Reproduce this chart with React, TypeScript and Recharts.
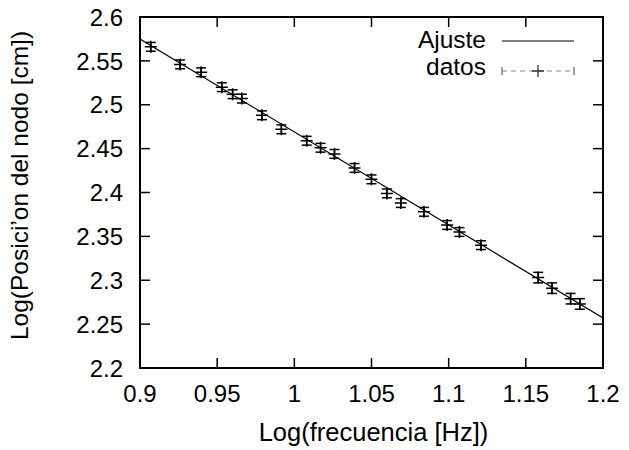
import React from "react";
import {
  ComposedChart,
  Scatter,
  XAxis,
  YAxis,
  ErrorBar,
  ReferenceArea,
  Label,
} from "recharts";

// log10 of frequency [Hz]
const freqLog = [
  0.907, 0.926, 0.9396, 0.953, 0.96, 0.966, 0.979, 0.9916, 1.008, 1.017, 1.026,
  1.039, 1.05, 1.06, 1.069, 1.084, 1.099, 1.107, 1.121, 1.158, 1.167, 1.179,
  1.185,
];
// log10 of node position [cm]
const posLog = [
  2.566, 2.546, 2.537, 2.52, 2.512, 2.507, 2.488, 2.472, 2.459, 2.451, 2.444,
  2.428, 2.415, 2.399, 2.388, 2.378, 2.363, 2.355, 2.34, 2.303, 2.291, 2.279,
  2.273,
];
const posErr = [
  0.005, 0.005, 0.005, 0.005, 0.005, 0.005, 0.005, 0.005, 0.005, 0.005, 0.005,
  0.005, 0.005, 0.005, 0.005, 0.005, 0.005, 0.005, 0.005, 0.006, 0.006, 0.006,
  0.006,
];
// linear fit endpoints
const fitFreq = [0.9, 1.2];
const fitPos = [2.575, 2.257];

const xTicks = [0.9, 0.95, 1, 1.05, 1.1, 1.15, 1.2];
const yTicks = [2.2, 2.25, 2.3, 2.35, 2.4, 2.45, 2.5, 2.55, 2.6];

const data = freqLog.map((x, i) => ({ x, y: posLog[i], err: posErr[i] }));
const fit = fitFreq.map((x, i) => ({ x, y: fitPos[i] }));

const W = 629;
const H = 450;
const FONT = "'Liberation Sans', Arial, Helvetica, sans-serif";
const PLOT_TOP = 17;
const PLOT_RIGHT = 603;
const TICK_LEN = 10;

const XTick = (props: any) => {
  const { x, y, payload } = props;
  return (
    <g>
      <line x1={x} x2={x} y1={y} y2={y - TICK_LEN} stroke="#000" strokeWidth={1.5} />
      <line x1={x} x2={x} y1={PLOT_TOP} y2={PLOT_TOP + TICK_LEN} stroke="#000" strokeWidth={1.5} />
      <text x={x} y={y + 34} textAnchor="middle" fontSize={24} fontFamily={FONT} fill="#000">
        {String(payload.value)}
      </text>
    </g>
  );
};

const YTick = (props: any) => {
  const { x, y, payload } = props;
  return (
    <g>
      <line x1={x} x2={x + TICK_LEN} y1={y} y2={y} stroke="#000" strokeWidth={1.5} />
      <line x1={PLOT_RIGHT} x2={PLOT_RIGHT - TICK_LEN} y1={y} y2={y} stroke="#000" strokeWidth={1.5} />
      <text x={x - 17} y={y} dy="0.36em" textAnchor="end" fontSize={24} fontFamily={FONT} fill="#000">
        {String(payload.value)}
      </text>
    </g>
  );
};

const XTitle = (props: any) => {
  const vb = props.viewBox;
  return (
    <text x={vb.x + vb.width / 2 + 2} y={vb.y + 73} textAnchor="middle" fontSize={25.5} fontFamily={FONT} fill="#000">
      Log(frecuencia [Hz])
    </text>
  );
};

const YTitle = (props: any) => {
  const vb = props.viewBox;
  const cx = vb.x - 12;
  const cy = vb.y + vb.height / 2 - 7;
  return (
    <text
      x={cx}
      y={cy}
      transform={`rotate(-90 ${cx} ${cy})`}
      textAnchor="middle"
      fontSize={24.5}
      fontFamily={FONT}
      fill="#000"
    >
      Log(Posici’on del nodo [cm])
    </text>
  );
};

const Plus = (props: any) => {
  const { cx, cy } = props;
  if (cx == null || cy == null) return <g />;
  return (
    <path
      d={`M${cx - 6},${cy}h12M${cx},${cy - 6}v12`}
      stroke="#000"
      strokeWidth={1.5}
      fill="none"
    />
  );
};

const Legend = () => (
  <svg
    width={W}
    height={H}
    style={{ position: "absolute", left: 0, top: 0, pointerEvents: "none" }}
  >
    <text x={486} y={48} textAnchor="end" fontSize={24.5} fontFamily={FONT} fill="#000">
      Ajuste
    </text>
    <line x1={502} x2={574} y1={41} y2={41} stroke="#000" strokeWidth={1.2} />
    <text x={486} y={75} textAnchor="end" fontSize={24.5} fontFamily={FONT} fill="#000">
      datos
    </text>
    <line x1={502} x2={574} y1={71} y2={71} stroke="#888" strokeWidth={1.2} strokeDasharray="5 4" />
    <line x1={502} x2={502} y1={67} y2={75} stroke="#666" strokeWidth={1.2} />
    <line x1={574} x2={574} y1={67} y2={75} stroke="#666" strokeWidth={1.2} />
    <path d="M532,71h12M538,65v12" stroke="#333" strokeWidth={1.3} fill="none" />
  </svg>
);

export default function App() {
  return (
    <div style={{ position: "absolute", left: 0, top: 0, width: W, height: H, background: "#fff" }}>
      <ComposedChart width={W} height={H} margin={{ top: 17, right: 26, bottom: 0, left: 40 }}>
        <XAxis
          type="number"
          dataKey="x"
          domain={[0.9, 1.2]}
          ticks={xTicks}
          interval={0}
          tick={XTick}
          tickSize={0}
          tickMargin={0}
          axisLine={false}
          height={82}
          allowDataOverflow
        >
          <Label content={XTitle} />
        </XAxis>
        <YAxis
          type="number"
          dataKey="y"
          domain={[2.2, 2.6]}
          ticks={yTicks}
          interval={0}
          tick={YTick}
          tickSize={0}
          tickMargin={0}
          axisLine={false}
          width={100}
          allowDataOverflow
        >
          <Label content={YTitle} />
        </YAxis>
        <ReferenceArea x1={0.9} x2={1.2} y1={2.2} y2={2.6} fill="none" stroke="#000" strokeWidth={2} />
        <Scatter
          data={fit}
          line={{ stroke: "#000", strokeWidth: 1.2 }}
          shape={() => <g />}
          isAnimationActive={false}
        />
        <Scatter data={data} shape={Plus} isAnimationActive={false}>
          <ErrorBar dataKey="err" direction="y" width={5} stroke="#000" strokeWidth={1.5} />
        </Scatter>
      </ComposedChart>
      <Legend />
    </div>
  );
}
